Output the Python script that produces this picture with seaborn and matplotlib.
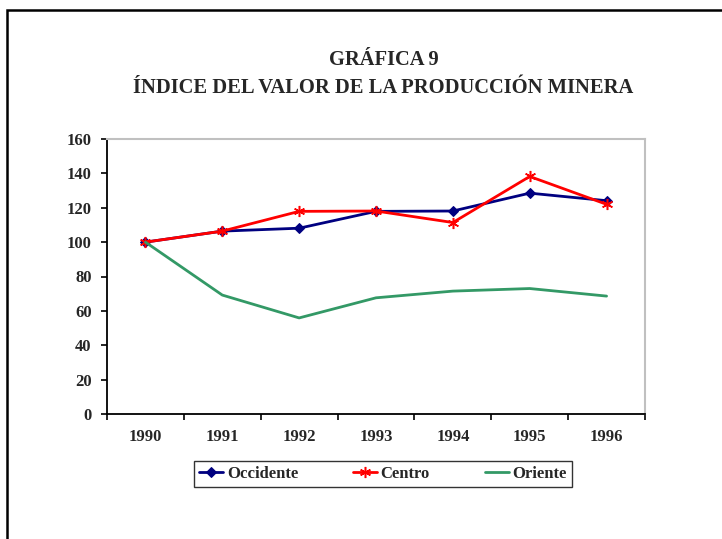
import seaborn as sns
import matplotlib.pyplot as plt
import matplotlib.patches as mpatches
from matplotlib.ticker import FixedLocator, NullFormatter
import pandas as pd

# data
years = ["1990", "1991", "1992", "1993", "1994", "1995", "1996"]
occidente = [100, 106.4, 108.1, 117.9, 118.1, 128.5, 124.1]
centro = [100, 106.4, 117.9, 118.1, 111.4, 138.2, 122.0]
oriente = [100, 69.2, 55.9, 67.6, 71.5, 73.0, 68.6]

sns.set_style("white")
plt.rcParams['font.family'] = ['Liberation Serif', 'DejaVu Serif']
plt.rcParams['font.weight'] = 'bold'

df = pd.DataFrame({"pos": range(len(years)), "Occidente": occidente,
                   "Centro": centro, "Oriente": oriente})

fig = plt.figure(figsize=(7.22, 5.39), dpi=100)
ax = fig.add_axes([107 / 722, 1 - 414 / 539, 538 / 722, 275 / 539])

sns.lineplot(data=df, x="pos", y="Occidente", ax=ax, color="#000080",
             marker="D", markersize=5.5, markeredgecolor="#000080",
             linewidth=2, label="Occidente")
sns.lineplot(data=df, x="pos", y="Centro", ax=ax, color="#FF0000",
             marker=(6, 2, 0), markersize=8, markeredgecolor="#FF0000",
             markeredgewidth=1.1, linewidth=2, label="Centro")
sns.lineplot(data=df, x="pos", y="Oriente", ax=ax, color="#339966",
             linewidth=2, label="Oriente")

ax.set_xlim(-0.5, len(years) - 0.5)
ax.set_ylim(0, 160)
ax.set_yticks(range(0, 161, 20))
ax.set_xlabel("")
ax.set_ylabel("")

# ticks at category boundaries, labels at centres (Excel style)
ax.xaxis.set_major_locator(FixedLocator([i - 0.5 for i in range(len(years) + 1)]))
ax.xaxis.set_major_formatter(NullFormatter())
ax.xaxis.set_minor_locator(FixedLocator(list(range(len(years)))))
ax.set_xticklabels(years, minor=True)
ax.tick_params(axis="x", which="major", direction="out", length=4, width=1.2,
               color="black", bottom=True)
ax.tick_params(axis="x", which="minor", length=0, pad=11, labelsize=12)
ax.tick_params(axis="y", direction="out", length=4, width=1.2, color="black",
               left=True, pad=7, labelsize=12)
for lab in ax.get_xticklabels(minor=True) + ax.get_yticklabels():
    lab.set_fontweight("bold")

for side in ["left", "bottom"]:
    ax.spines[side].set_color("black")
    ax.spines[side].set_linewidth(1.3)
for side in ["top", "right"]:
    ax.spines[side].set_color("#C0C0C0")
    ax.spines[side].set_linewidth(1.5)

leg = ax.legend(loc="center", bbox_to_anchor=(383 / 722, 1 - 473.5 / 539),
                bbox_transform=fig.transFigure, ncol=3, frameon=True,
                fancybox=False, handlelength=1.45, handletextpad=0.2,
                columnspacing=3.3, borderpad=0.3,
                prop={"size": 12, "weight": "bold"})
leg.get_frame().set_edgecolor("black")
leg.get_frame().set_linewidth(1.0)

fig.text(383.5 / 722, 1 - 65 / 539, "GRÁFICA 9", ha="center", va="baseline",
         fontsize=14.8, fontweight="bold")
fig.text(383.5 / 722, 1 - 93 / 539, "ÍNDICE DEL VALOR DE LA PRODUCCIÓN MINERA",
         ha="center", va="baseline", fontsize=14.8, fontweight="bold")

# outer chart-area border, running off the right and bottom edges
fig.patches.append(mpatches.Rectangle((7 / 722, -0.1), 1.0, 1 - 10 / 539 + 0.1,
                                      transform=fig.transFigure, fill=False,
                                      edgecolor="black", linewidth=1.8))

fig.savefig("out.png", dpi=100)
